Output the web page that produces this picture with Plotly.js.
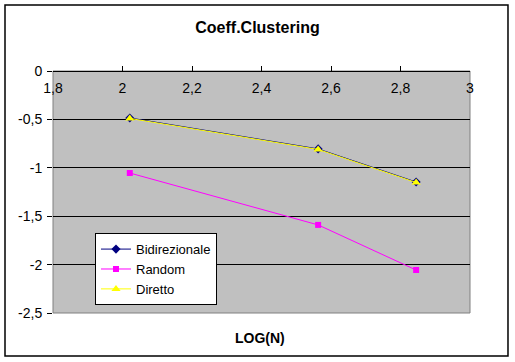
<!DOCTYPE html>
<html><head><meta charset="utf-8">
<script src="https://cdn.plot.ly/plotly-3.0.1.min.js"></script>
<style>html,body{margin:0;padding:0;background:#fff;}#chart{width:515px;height:362px;}</style>
</head><body><div id="chart"></div>
<script>
const logN = [2.021, 2.563, 2.845];
const bidirezionale = [-0.485, -0.805, -1.147];
const random = [-1.054, -1.59, -2.056];
const diretto = [-0.49, -0.81, -1.152];
const xTickVals = [1.8, 2, 2.2, 2.4, 2.6, 2.8, 3];
const xTickText = ['1,8', '2', '2,2', '2,4', '2,6', '2,8', '3'];
const yTickVals = [0, -0.5, -1, -1.5, -2, -2.5];
const yTickText = ['0', '-0,5', '-1', '-1,5', '-2', '-2,5'];

const font = {family: 'Liberation Sans, Arial, sans-serif', color: '#000'};
const traces = [
  {x: logN, y: bidirezionale, name: 'Bidirezionale', mode: 'lines+markers',
   line: {color: '#000080', width: 1}, marker: {symbol: 'diamond', size: 7, color: '#000080'}},
  {x: logN, y: random, name: 'Random', mode: 'lines+markers',
   line: {color: '#FF00FF', width: 1}, marker: {symbol: 'square', size: 6, color: '#FF00FF'}},
  {x: logN, y: diretto, name: 'Diretto', mode: 'lines+markers',
   line: {color: '#FFFF00', width: 1}, marker: {symbol: 'triangle-up', size: 8, color: '#FFFF00'}}
];
const layout = {
  width: 515, height: 362,
  margin: {l: 53, r: 45, t: 71, b: 49},
  paper_bgcolor: '#fff', plot_bgcolor: '#C0C0C0',
  font: Object.assign({size: 14}, font),
  showlegend: true,
  title: {text: '<b>Coeff.Clustering</b>', font: Object.assign({size: 16}, font), x: 0.5, xanchor: 'center', y: 0.925, yanchor: 'middle'},
  xaxis: {
    range: [1.8, 3], anchor: 'free', position: 1, side: 'bottom',
    tickvals: xTickVals, ticktext: xTickText,
    ticks: 'inside', ticklen: 5, tickcolor: '#000', ticklabelstandoff: 4,
    showline: true, linecolor: '#000', linewidth: 1, showgrid: false, zeroline: false,
    tickfont: Object.assign({size: 14}, font),
    title: {text: ''}
  },
  yaxis: {
    range: [-2.5, 0], tickvals: yTickVals, ticktext: yTickText,
    ticks: 'outside', ticklen: 5, tickcolor: '#000', ticklabelstandoff: 2,
    showline: false, showgrid: true, gridcolor: '#000', gridwidth: 1, zeroline: false,
    tickfont: Object.assign({size: 14}, font)
  },
  legend: {
    x: 0.1007, y: 0.33, xanchor: 'left', yanchor: 'top',
    bgcolor: '#fff', bordercolor: '#000', borderwidth: 1,
    font: Object.assign({size: 13}, font), tracegroupgap: 0, itemwidth: 30
  },
  annotations: [
    {text: '<b>LOG(N)</b>', xref: 'paper', yref: 'paper', x: 0.4964, y: -0.103,
     showarrow: false, font: Object.assign({size: 14}, font), xanchor: 'center', yanchor: 'middle'}
  ],
  shapes: [
    {type: 'rect', xref: 'paper', yref: 'paper', x0: 0, x1: 1, y0: 0, y1: 1,
     line: {color: '#808080', width: 1}, layer: 'below'},
    {type: 'rect', xref: 'paper', yref: 'paper', x0: -0.1151, x1: 1.0911, y0: -0.1777, y1: 1.2727,
     line: {color: '#000', width: 1.5}}
  ]
};
Plotly.newPlot('chart', traces, layout, {displayModeBar: false, staticPlot: true});
</script></body></html>
